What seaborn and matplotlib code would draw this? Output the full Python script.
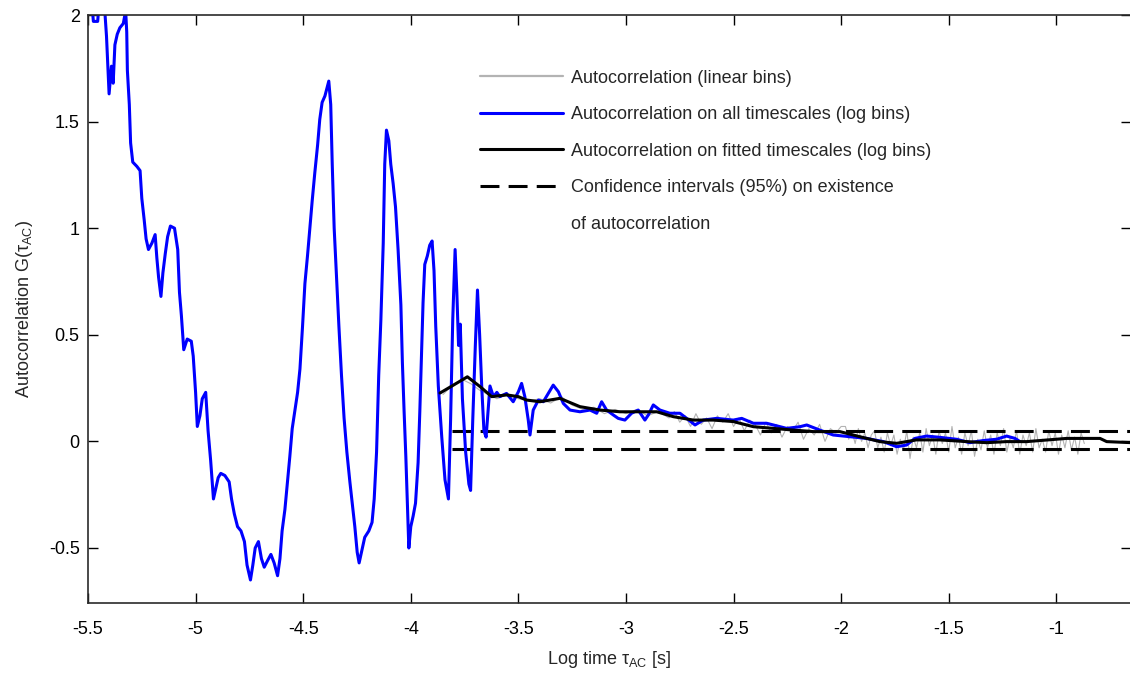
import matplotlib
matplotlib.use("Agg")
import matplotlib.pyplot as plt
from matplotlib.lines import Line2D
import seaborn as sns

# blue: autocorrelation on all timescales (log bins)
blue_x = [
    -5.490, -5.475, -5.455, -5.445, -5.430, -5.422, -5.414, -5.406, -5.402, -5.391,
    -5.383, -5.375, -5.364, -5.352, -5.336, -5.325, -5.320, -5.317, -5.308, -5.302,
    -5.292, -5.273, -5.258, -5.250, -5.239, -5.230, -5.219, -5.203, -5.188, -5.180,
    -5.172, -5.161, -5.152, -5.141, -5.130, -5.117, -5.098, -5.083, -5.075, -5.066,
    -5.055, -5.039, -5.020, -5.011, -5.000, -4.992, -4.980, -4.969, -4.953, -4.942,
    -4.930, -4.917, -4.906, -4.895, -4.883, -4.864, -4.844, -4.833, -4.820, -4.805,
    -4.789, -4.773, -4.761, -4.745, -4.734, -4.723, -4.708, -4.694, -4.681, -4.666,
    -4.650, -4.635, -4.619, -4.608, -4.598, -4.585, -4.573, -4.562, -4.551, -4.539,
    -4.526, -4.515, -4.503, -4.492, -4.480, -4.469, -4.458, -4.446, -4.433, -4.423,
    -4.412, -4.399, -4.389, -4.381, -4.372, -4.365, -4.356, -4.345, -4.334, -4.322,
    -4.310, -4.297, -4.283, -4.271, -4.260, -4.249, -4.240, -4.229, -4.214, -4.195,
    -4.180, -4.170, -4.159, -4.149, -4.139, -4.128, -4.121, -4.113, -4.102, -4.093,
    -4.082, -4.071, -4.059, -4.046, -4.039, -4.031, -4.023, -4.016, -4.009, -4.000,
    -3.989, -3.978, -3.966, -3.958, -3.950, -3.943, -3.935, -3.923, -3.912, -3.901,
    -3.892, -3.884, -3.872, -3.856, -3.841, -3.825, -3.815, -3.805, -3.794, -3.786,
    -3.778, -3.770, -3.760, -3.745, -3.730, -3.722, -3.712, -3.700, -3.690, -3.680,
    -3.670, -3.660, -3.650, -3.640, -3.632, -3.616, -3.600, -3.586, -3.555, -3.524,
    -3.500, -3.485, -3.470, -3.454, -3.446, -3.431, -3.407, -3.384, -3.361, -3.338,
    -3.314, -3.291, -3.260, -3.214, -3.167, -3.136, -3.113, -3.090, -3.059, -3.036,
    -3.005, -2.974, -2.943, -2.912, -2.896, -2.873, -2.842, -2.796, -2.749, -2.718,
    -2.679, -2.641, -2.579, -2.501, -2.462, -2.408, -2.346, -2.253, -2.191, -2.160,
    -2.099, -2.037, -1.959, -1.882, -1.804, -1.742, -1.696, -1.657, -1.603, -1.541,
    -1.464, -1.402, -1.340, -1.278, -1.231, -1.192, -1.169]
blue_y = [
    2.15, 1.97, 1.97, 2.10, 2.20, 2.02, 1.90, 1.72, 1.63, 1.76,
    1.68, 1.86, 1.91, 1.94, 1.96, 2.02, 1.92, 1.74, 1.58, 1.40,
    1.31, 1.29, 1.27, 1.14, 1.04, 0.95, 0.90, 0.93, 0.97, 0.86,
    0.77, 0.68, 0.79, 0.88, 0.96, 1.01, 1.00, 0.90, 0.70, 0.59,
    0.43, 0.48, 0.47, 0.40, 0.23, 0.07, 0.12, 0.20, 0.23, 0.05,
    -0.09, -0.27, -0.22, -0.17, -0.15, -0.16, -0.19, -0.27, -0.34, -0.40,
    -0.42, -0.47, -0.58, -0.65, -0.58, -0.50, -0.47, -0.55, -0.59, -0.56,
    -0.53, -0.57, -0.63, -0.55, -0.42, -0.32, -0.19, -0.07, 0.06, 0.14,
    0.23, 0.34, 0.54, 0.74, 0.87, 1.00, 1.13, 1.26, 1.39, 1.51,
    1.59, 1.62, 1.66, 1.69, 1.58, 1.30, 1.00, 0.77, 0.54, 0.31,
    0.11, -0.05, -0.19, -0.30, -0.40, -0.52, -0.57, -0.52, -0.45, -0.42,
    -0.38, -0.27, -0.05, 0.31, 0.57, 0.93, 1.30, 1.46, 1.41, 1.30,
    1.21, 1.10, 0.90, 0.64, 0.37, 0.14, -0.07, -0.29, -0.50, -0.40,
    -0.35, -0.29, -0.10, 0.14, 0.41, 0.65, 0.83, 0.87, 0.92, 0.94,
    0.80, 0.54, 0.26, 0.02, -0.18, -0.27, 0.10, 0.57, 0.90, 0.70,
    0.45, 0.55, 0.20, -0.05, -0.20, -0.23, 0.10, 0.45, 0.71, 0.50,
    0.25, 0.05, 0.02, 0.15, 0.26, 0.21, 0.23, 0.21, 0.225, 0.186,
    0.233, 0.272, 0.21, 0.10, 0.03, 0.147, 0.194, 0.186, 0.225, 0.264,
    0.233, 0.178, 0.147, 0.139, 0.147, 0.132, 0.186, 0.147, 0.124, 0.108,
    0.100, 0.132, 0.147, 0.100, 0.124, 0.171, 0.147, 0.132, 0.132, 0.108,
    0.077, 0.100, 0.108, 0.100, 0.108, 0.085, 0.085, 0.061, 0.069, 0.077,
    0.053, 0.030, 0.022, 0.014, -0.001, -0.025, -0.017, 0.014, 0.025, 0.019,
    0.010, -0.006, 0.004, 0.010, 0.025, 0.014, -0.001]

# black: autocorrelation on fitted timescales (log bins)
black_x = [
    -3.864, -3.800, -3.737, -3.678, -3.624, -3.554, -3.500, -3.462, -3.400, -3.307,
    -3.214, -3.121, -3.028, -2.935, -2.857, -2.780, -2.687, -2.594, -2.501, -2.408,
    -2.315, -2.222, -2.130, -2.006, -1.913, -1.820, -1.742, -1.650, -1.541, -1.417,
    -1.324, -1.231, -1.138, -1.076, -0.952, -0.797, -0.766, -0.650]
black_y = [
    0.227, 0.265, 0.303, 0.257, 0.210, 0.218, 0.210, 0.194, 0.186, 0.202,
    0.163, 0.147, 0.139, 0.139, 0.139, 0.116, 0.100, 0.100, 0.093, 0.069,
    0.061, 0.053, 0.046, 0.046, 0.022, -0.001, -0.009, 0.007, 0.007, -0.001,
    -0.006, -0.001, -0.001, 0.004, 0.014, 0.014, -0.001, -0.006]

# gray: autocorrelation (linear bins), read in three stretches
gray_x_a = [-3.85, -3.80, -3.76, -3.72, -3.68, -3.64, -3.60, -3.55, -3.50, -3.45,
            -3.40, -3.35, -3.30, -3.25, -3.20, -3.15, -3.10, -3.05, -3.00, -2.95,
            -2.90, -2.85, -2.80]
gray_y_a = [0.22, 0.27, 0.29, 0.27, 0.24, 0.22, 0.20, 0.22, 0.20, 0.19,
            0.20, 0.18, 0.21, 0.17, 0.15, 0.16, 0.13, 0.15, 0.13, 0.15,
            0.12, 0.14, 0.11]
gray_x_b = [-2.775, -2.750, -2.725, -2.700, -2.675, -2.650, -2.625, -2.600, -2.575, -2.550,
            -2.525, -2.500, -2.475, -2.450, -2.425, -2.400, -2.375, -2.350, -2.325, -2.300,
            -2.275, -2.250, -2.225, -2.200, -2.175, -2.150, -2.125, -2.100, -2.075, -2.050,
            -2.025, -2.000]
gray_y_b = [0.14, 0.09, 0.12, 0.07, 0.13, 0.08, 0.11, 0.06, 0.12, 0.09,
            0.13, 0.07, 0.11, 0.05, 0.10, 0.08, 0.03, 0.09, 0.04, 0.08,
            0.02, 0.07, 0.05, 0.09, 0.01, 0.06, 0.03, 0.08, 0.00, 0.06,
            0.04, 0.07]
gray_x_c = [-1.980, -1.965, -1.950, -1.935, -1.920, -1.905, -1.890, -1.875, -1.860, -1.845,
            -1.830, -1.815, -1.800, -1.785, -1.770, -1.755, -1.740, -1.725, -1.710, -1.695,
            -1.680, -1.665, -1.650, -1.635, -1.620, -1.605, -1.590, -1.575, -1.560, -1.545,
            -1.530, -1.515, -1.500, -1.485, -1.470, -1.455, -1.440, -1.425, -1.410, -1.395,
            -1.380, -1.365, -1.350, -1.335, -1.320, -1.305, -1.290, -1.275, -1.260, -1.245,
            -1.230, -1.215, -1.200, -1.185, -1.170, -1.155, -1.140, -1.125, -1.110, -1.095,
            -1.080, -1.065, -1.050, -1.035, -1.020, -1.005, -0.990, -0.975, -0.960, -0.945,
            -0.930, -0.915, -0.900, -0.885, -0.870]
gray_y_c = [0.07, 0.01, 0.05, -0.01, 0.06, 0.00, 0.04, -0.03, 0.03, 0.05,
            -0.03, 0.02, -0.05, 0.04, -0.02, 0.03, -0.06, 0.01, -0.04, 0.05,
            -0.08, 0.02, -0.03, 0.04, -0.05, 0.06, -0.02, 0.03, -0.06, 0.05,
            -0.01, 0.04, -0.05, 0.07, -0.03, 0.02, -0.06, 0.04, -0.02, 0.05,
            -0.07, 0.01, -0.04, 0.05, -0.03, 0.03, -0.06, 0.04, -0.02, 0.06,
            -0.05, 0.02, -0.03, 0.05, -0.06, 0.03, -0.02, 0.04, -0.05, 0.06,
            -0.03, 0.01, -0.05, 0.05, -0.02, 0.04, -0.06, 0.03, -0.03, 0.05,
            -0.04, 0.02, -0.06, 0.04, -0.01]
gray_x = gray_x_a + gray_x_b + gray_x_c
gray_y = gray_y_a + gray_y_b + gray_y_c

# 95% confidence bounds
conf_x = [-3.81, -0.60]
conf_upper = 0.049
conf_lower = -0.037

x_ticks = [-5.5, -5, -4.5, -4, -3.5, -3, -2.5, -2, -1.5, -1]
x_tick_labels = ['-5.5', '-5', '-4.5', '-4', '-3.5', '-3', '-2.5', '-2', '-1.5', '-1']
y_ticks = [-0.5, 0, 0.5, 1, 1.5, 2]
y_tick_labels = ['-0.5', '0', '0.5', '1', '1.5', '2']

sns.set_style("ticks")
plt.rcParams['font.family'] = ['Liberation Sans', 'DejaVu Sans']
plt.rcParams['mathtext.fontset'] = 'custom'
plt.rcParams['mathtext.rm'] = 'Liberation Sans'
plt.rcParams['axes.unicode_minus'] = False

fig = plt.figure(figsize=(11.3, 6.74), dpi=100)
ax = fig.add_axes([88 / 1130, 71 / 674, 1043 / 1130, 588 / 674])

sns.lineplot(x=gray_x, y=gray_y, ax=ax, color='#b3b3b3', linewidth=0.8,
             sort=False, estimator=None, legend=False)
dash = (0, (6.2, 3.0))
sns.lineplot(x=conf_x, y=[conf_upper, conf_upper], ax=ax, color='black', linewidth=2.2,
             linestyle=dash, sort=False, estimator=None, legend=False)
sns.lineplot(x=conf_x, y=[conf_lower, conf_lower], ax=ax, color='black', linewidth=2.2,
             linestyle=dash, sort=False, estimator=None, legend=False)
sns.lineplot(x=blue_x, y=blue_y, ax=ax, color='#0000ff', linewidth=2.2,
             sort=False, estimator=None, legend=False)
sns.lineplot(x=black_x, y=black_y, ax=ax, color='black', linewidth=2.2,
             sort=False, estimator=None, legend=False)

ax.set_xlim(-5.5, -0.653)
ax.set_ylim(-0.758, 2)
ax.set_xticks(x_ticks)
ax.set_xticklabels(x_tick_labels)
ax.set_yticks(y_ticks)
ax.set_yticklabels(y_tick_labels)
ax.tick_params(direction='in', length=7.5, width=1, top=True, right=True,
               labelsize=13, colors='black')
ax.tick_params(axis='x', pad=13)
ax.tick_params(axis='y', pad=6)
for sp in ax.spines.values():
    sp.set_visible(True)
    sp.set_linewidth(1.2)
    sp.set_color('#2b2b2b')

ax.set_xlabel(r'Log time τ$_\mathregular{AC}$ [s]', fontsize=13, labelpad=8)
ax.set_ylabel(r'Autocorrelation G(τ$_\mathregular{AC}$)', fontsize=13, labelpad=10)

handles = [
    Line2D([], [], color='#b3b3b3', linewidth=1.6),
    Line2D([], [], color='#0000ff', linewidth=2.2),
    Line2D([], [], color='black', linewidth=2.2),
    Line2D([], [], color='black', linewidth=2.2, linestyle=dash),
    Line2D([], [], color='none'),
]
labels = [
    'Autocorrelation (linear bins)',
    'Autocorrelation on all timescales (log bins)',
    'Autocorrelation on fitted timescales (log bins)',
    'Confidence intervals (95%) on existence',
    'of autocorrelation',
]
ax.legend(handles, labels, loc='upper left', bbox_to_anchor=(0.376, 0.907),
          frameon=False, fontsize=13, handlelength=4.6, handletextpad=0.45,
          labelspacing=1.08, borderpad=0, borderaxespad=0)

plt.savefig('out.png', dpi=100)
